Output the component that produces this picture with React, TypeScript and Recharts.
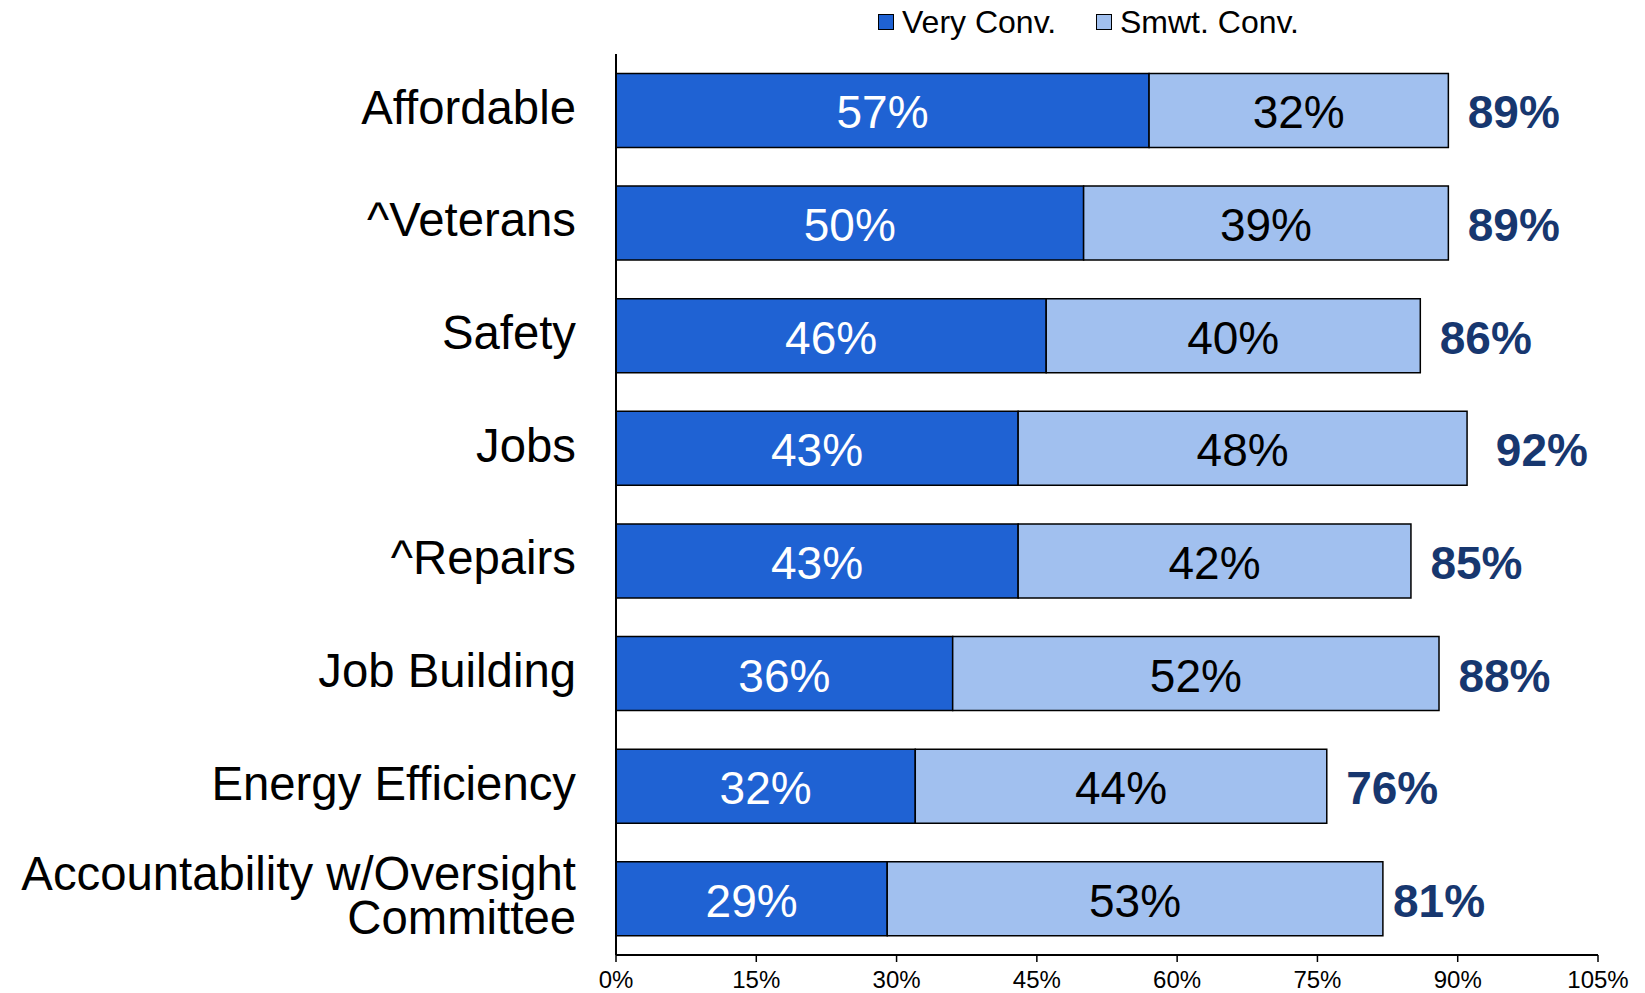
import React from 'react';
import { BarChart, Bar, XAxis, YAxis, LabelList } from 'recharts';

const categories = [
  'Affordable',
  '^Veterans',
  'Safety',
  'Jobs',
  '^Repairs',
  'Job Building',
  'Energy Efficiency',
  'Accountability w/Oversight Committee',
];
const veryConv = [57, 50, 46, 43, 43, 36, 32, 29];
const smwtConv = [32, 39, 40, 48, 42, 52, 44, 53];
const totals = [89, 89, 86, 92, 85, 88, 76, 81];
const xTicks = [0, 15, 30, 45, 60, 75, 90, 105];

const DARK = '#1F62D3';
const LIGHT = '#A1C0EF';
const NAVY = '#17376F';
const FONT = '"Liberation Sans", Arial, sans-serif';

const data = categories.map((name, i) => ({
  name,
  very: veryConv[i],
  smwt: smwtConv[i],
  total: totals[i],
}));

// split the long category into two lines like the original
const LINE_BREAKS: Record<string, string[]> = {
  'Accountability w/Oversight Committee': ['Accountability w/Oversight', 'Committee'],
};

function CategoryTick(props: any) {
  const { x, y, payload } = props;
  const lines = LINE_BREAKS[payload.value] ?? [payload.value];
  const lh = 44;
  const start = -((lines.length - 1) * lh) / 2 - 3;
  return (
    <text x={x - 40} y={y} textAnchor="end" fontFamily={FONT} fontSize={47.3} fill="#000">
      {lines.map((l, i) => (
        <tspan key={i} x={x - 40} y={y + start + i * lh} dominantBaseline="central">
          {l}
        </tspan>
      ))}
    </text>
  );
}

const inBarLabel = (color: string) => (props: any) => {
  const { x, y, width, height, value } = props;
  return (
    <text
      x={x + width / 2}
      y={y + height / 2 + 2}
      textAnchor="middle"
      dominantBaseline="central"
      fontFamily={FONT}
      fontSize={46}
      fill={color}
    >
      {`${value}%`}
    </text>
  );
};

// total sits a little past the end of the bar, centred ~7 points beyond the total
function TotalLabel(props: any) {
  const { x, y, width, height, index } = props;
  const d = data[index];
  const perUnit = width / d.smwt;
  const cx = x + width + (d.total - (d.very + d.smwt) + 7.0) * perUnit;
  return (
    <text
      x={cx}
      y={y + height / 2 + 2}
      textAnchor="middle"
      dominantBaseline="central"
      fontFamily={FONT}
      fontSize={46}
      fontWeight="bold"
      fill={NAVY}
    >
      {`${d.total}%`}
    </text>
  );
}

function LegendBox() {
  const item = (left: number, color: string, label: string) => (
    <div style={{ position: 'absolute', left, top: 4, display: 'flex', alignItems: 'center', height: 36 }}>
      <div style={{ width: 14, height: 14, background: color, border: '1.5px solid #000', marginRight: 8 }} />
      <span style={{ fontFamily: FONT, fontSize: 32, color: '#000', lineHeight: '36px' }}>{label}</span>
    </div>
  );
  return (
    <>
      {item(878, DARK, 'Very Conv.')}
      {item(1096, LIGHT, 'Smwt. Conv.')}
    </>
  );
}

export default function App() {
  return (
    <div style={{ position: 'absolute', left: 0, top: 0, width: 1645, height: 993, background: '#fff' }}>
      <LegendBox />
      <BarChart
        width={1645}
        height={993}
        data={data}
        layout="vertical"
        margin={{ top: 54, right: 47, bottom: 0, left: 0 }}
        barCategoryGap="17.3%"
      >
        <XAxis
          type="number"
          domain={[0, 105]}
          ticks={xTicks}
          interval={0}
          tickFormatter={(v) => `${v}%`}
          height={38}
          axisLine={{ stroke: '#000', strokeWidth: 2 }}
          tickLine={{ stroke: '#000', strokeWidth: 1.5 }}
          tickSize={7}
          tickMargin={9}
          tick={{ fontFamily: FONT, fontSize: 24, fill: '#000' }}
        />
        <YAxis
          type="category"
          dataKey="name"
          width={616}
          axisLine={{ stroke: '#000', strokeWidth: 2 }}
          tickLine={false}
          tickSize={0}
          tickMargin={0}
          interval={0}
          tick={<CategoryTick />}
        />
        <Bar dataKey="very" stackId="a" fill={DARK} stroke="#000" strokeWidth={1.5} isAnimationActive={false}>
          <LabelList dataKey="very" content={inBarLabel('#fff')} />
        </Bar>
        <Bar dataKey="smwt" stackId="a" fill={LIGHT} stroke="#000" strokeWidth={1.5} isAnimationActive={false}>
          <LabelList dataKey="smwt" content={inBarLabel('#000')} />
          <LabelList dataKey="total" content={<TotalLabel />} />
        </Bar>
      </BarChart>
    </div>
  );
}
